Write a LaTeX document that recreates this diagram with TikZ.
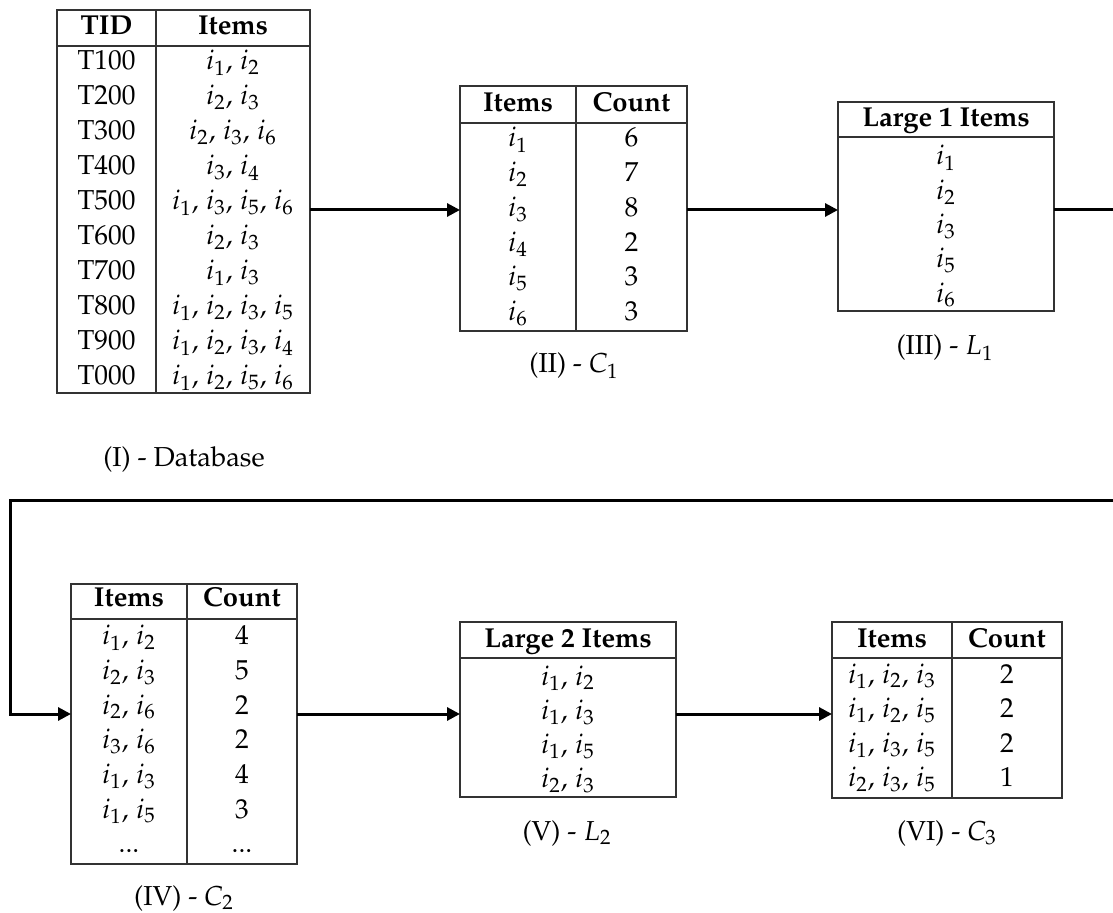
\documentclass[tikz,border=0pt]{standalone}
\usepackage[T1]{fontenc}
\usepackage{mathpazo}
\usetikzlibrary{arrows.meta}

% separator between items of an itemset
\newcommand{\isep}{,\mkern2mu}

\tikzset{
  tbl/.style={draw=black!80, line width=0.8pt, rectangle, inner sep=0pt, outer sep=0pt, anchor=north west},
  rule/.style={draw=black!80, line width=0.8pt},
  cell/.style={anchor=base, inner sep=0pt, font=\fontsize{13.7}{16}\selectfont},
  head/.style={cell, font=\fontsize{13.7}{16}\selectfont\bfseries},
  conn/.style={line width=1.5pt, black, line join=miter},
  arr/.style={conn, -{Triangle[length=6.5pt,width=6.5pt]}},
}

\begin{document}
\begin{tikzpicture}[x=0.5pt, y=-0.5pt]
\useasboundingbox (0,0) rectangle (1113,913);
\clip (0,0) rectangle (1113,913);

% ---------- (I) database of transactions ----------
\node[tbl, minimum width=126.5pt, minimum height=191.5pt] (tabI) at (57,10) {};
\draw[rule] (57,46) -- (310,46);
\draw[rule] (156,10) -- (156,393);
\node[head] (dbHeadT) at (106.5,35) {TID};
\node[head] (dbHeadI) at (233,35) {Items};
\foreach \t [count=\k from 0] in {T100,T200,T300,T400,T500,T600,T700,T800,T900,T000}
  \node[cell] (dbT\k) at (106.5,70+35*\k) {\t};
\foreach \t [count=\k from 0] in {{$i_1\isep i_2$},{$i_2\isep i_3$},{$i_2\isep i_3\isep i_6$},{$i_3\isep i_4$},
    {$i_1\isep i_3\isep i_5\isep i_6$},{$i_2\isep i_3$},{$i_1\isep i_3$},{$i_1\isep i_2\isep i_3\isep i_5$},
    {$i_1\isep i_2\isep i_3\isep i_4$},{$i_1\isep i_2\isep i_5\isep i_6$}}
  \node[cell] (dbI\k) at (233,70+35*\k) {\t};
\node[cell] (capI) at (184,467) {(I) - Database};

% ---------- (II) candidate 1-itemsets ----------
\node[tbl, minimum width=113.5pt, minimum height=122.5pt] (tabII) at (460,86) {};
\draw[rule] (460,123) -- (687,123);
\draw[rule] (576,86) -- (576,331);
\node[head] (c1HeadI) at (518,112) {Items};
\node[head] (c1HeadC) at (631.5,112) {Count};
\foreach \t/\n [count=\k from 0] in {1/6,2/7,3/8,4/2,5/3,6/3}{
  \node[cell] (c1I\k) at (518,147+34.7*\k) {$i_\t$};
  \node[cell] (c1C\k) at (631.5,147+34.7*\k) {\n};
}
\node[cell] (capII) at (574,373) {(II) - $C_1$};

% ---------- (III) large 1-itemsets ----------
\node[tbl, minimum width=108pt, minimum height=104.5pt] (tabIII) at (838,102) {};
\draw[rule] (838,137) -- (1054,137);
\node[head] (l1Head) at (946,127) {Large 1 Items};
\foreach \t [count=\k from 0] in {1,2,3,5,6}
  \node[cell] (l1I\k) at (946,165+34.3*\k) {$i_\t$};
\node[cell] (capIII) at (945,355) {(III) - $L_1$};

% ---------- (IV) candidate 2-itemsets ----------
\node[tbl, minimum width=113pt, minimum height=140pt] (tabIV) at (71,584) {};
\draw[rule] (71,619) -- (297,619);
\draw[rule] (187,584) -- (187,864);
\node[head] (c2HeadI) at (129,607) {Items};
\node[head] (c2HeadC) at (242,607) {Count};
\foreach \t/\n [count=\k from 0] in {{$i_1\isep i_2$}/4,{$i_2\isep i_3$}/5,{$i_2\isep i_6$}/2,
    {$i_3\isep i_6$}/2,{$i_1\isep i_3$}/4,{$i_1\isep i_5$}/3,{...}/{...}}{
  \node[cell] (c2I\k) at (129,645+34.6*\k) {\t};
  \node[cell] (c2C\k) at (242,645+34.6*\k) {\n};
}
\node[cell] (capIV) at (184,905) {(IV) - $C_2$};

% ---------- (V) large 2-itemsets ----------
\node[tbl, minimum width=108pt, minimum height=87.5pt] (tabV) at (460,622) {};
\draw[rule] (460,658) -- (676,658);
\node[head] (l2Head) at (568,647) {Large 2 Items};
\foreach \t [count=\k from 0] in {{$i_1\isep i_2$},{$i_1\isep i_3$},{$i_1\isep i_5$},{$i_2\isep i_3$}}
  \node[cell] (l2I\k) at (568,685+34.3*\k) {\t};
\node[cell] (capV) at (567,840) {(V) - $L_2$};

% ---------- (VI) candidate 3-itemsets ----------
\node[tbl, minimum width=115pt, minimum height=88pt] (tabVI) at (832,622) {};
\draw[rule] (832,658) -- (1062,658);
\draw[rule] (952,622) -- (952,798);
\node[head] (c3HeadI) at (892,647) {Items};
\node[head] (c3HeadC) at (1007,647) {Count};
\foreach \t/\n [count=\k from 0] in {{$i_1\isep i_2\isep i_3$}/2,{$i_1\isep i_2\isep i_5$}/2,
    {$i_1\isep i_3\isep i_5$}/2,{$i_2\isep i_3\isep i_5$}/1}{
  \node[cell] (c3I\k) at (892,683+34.6*\k) {\t};
  \node[cell] (c3C\k) at (1007,683+34.6*\k) {\n};
}
\node[cell] (capVI) at (947,840) {(VI) - $C_3$};

% ---------- connectors ----------
\coordinate (rowA) at (0,210);
\coordinate (rowB) at (0,714);
\coordinate (bendTR) at (1130,210);
\coordinate (bendR) at (1130,501);
\coordinate (bendL) at (10,501);
\coordinate (bendBL) at (10,714);

\draw[arr] (tabI.east |- rowA) -- (tabII.west |- rowA);
\draw[arr] (tabII.east |- rowA) -- (tabIII.west |- rowA);
\draw[arr] (tabIII.east |- rowA) -- (bendTR) -- (bendR) -- (bendL) -- (bendBL) -- (tabIV.west |- rowB);
\draw[arr] (tabIV.east |- rowB) -- (tabV.west |- rowB);
\draw[arr] (tabV.east |- rowB) -- (tabVI.west |- rowB);
\end{tikzpicture}
\end{document}
